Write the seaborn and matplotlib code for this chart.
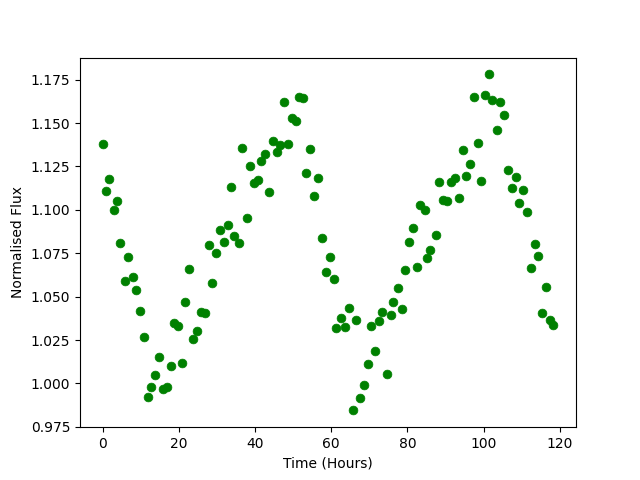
import matplotlib
matplotlib.use("Agg")
import matplotlib.pyplot as plt
import pandas as pd
import seaborn as sns

# Light curve
time_hours = [
    0.0, 0.8, 1.8, 2.9, 3.9, 4.7, 5.8, 6.8, 7.9, 8.9,
    9.7, 10.8, 11.8, 12.8, 13.7, 14.7, 15.9, 16.9, 17.9, 18.8,
    19.7, 20.8, 21.7, 22.8, 23.7, 24.8, 25.9, 26.8, 28.0, 28.7,
    29.7, 30.7, 31.8, 32.8, 33.6, 34.6, 35.7, 36.7, 37.8, 38.6,
    39.7, 40.7, 41.7, 42.6, 43.6, 44.6, 45.7, 46.6, 47.5, 48.6,
    49.6, 50.8, 51.6, 52.5, 53.5, 54.5, 55.6, 56.5, 57.5, 58.5,
    59.6, 60.6, 61.3, 62.5, 63.5, 64.6, 65.6, 66.4, 67.5, 68.5,
    69.6, 70.5, 71.4, 72.4, 73.3, 74.5, 75.6, 76.3, 77.4, 78.5,
    79.4, 80.3, 81.4, 82.5, 83.3, 84.5, 85.1, 86.0, 87.6, 88.4,
    89.4, 90.3, 91.4, 92.4, 93.4, 94.6, 95.3, 96.3, 97.4, 98.4,
    99.2, 100.3, 101.3, 102.3, 103.4, 104.3, 105.2, 106.3, 107.3, 108.4,
    109.2, 110.2, 111.3, 112.3, 113.4, 114.2, 115.2, 116.3, 117.3, 118.3,
]
flux = [
    1.138, 1.111, 1.118, 1.100, 1.105, 1.081, 1.059, 1.073, 1.0615, 1.054,
    1.042, 1.027, 0.992, 0.998, 1.005, 1.015, 0.9966, 0.9977, 1.010, 1.035,
    1.033, 1.012, 1.047, 1.066, 1.0257, 1.030, 1.0412, 1.0406, 1.080, 1.058,
    1.075, 1.0885, 1.0814, 1.0912, 1.113, 1.085, 1.081, 1.1354, 1.0952, 1.1253,
    1.1153, 1.1172, 1.128, 1.1322, 1.1102, 1.1397, 1.1332, 1.1374, 1.1619, 1.1378,
    1.1531, 1.1513, 1.1648, 1.1642, 1.1211, 1.1349, 1.108, 1.1182, 1.0837, 1.0642,
    1.0728, 1.0603, 1.032, 1.0379, 1.0326, 1.0437, 0.9845, 1.0366, 0.9918, 0.9992,
    1.0115, 1.0329, 1.0188, 1.0358, 1.041, 1.0052, 1.0393, 1.047, 1.0552, 1.0429,
    1.0655, 1.0816, 1.0895, 1.067, 1.1029, 1.100, 1.0722, 1.0768, 1.0855, 1.1159,
    1.1057, 1.105, 1.1163, 1.1182, 1.1067, 1.1343, 1.1195, 1.1262, 1.1648, 1.1383,
    1.1165, 1.1659, 1.178, 1.163, 1.1458, 1.1619, 1.1544, 1.1228, 1.1125, 1.1188,
    1.1042, 1.1113, 1.0989, 1.0667, 1.0803, 1.0736, 1.0406, 1.0557, 1.0366, 1.0337,
]

df = pd.DataFrame({'time': time_hours, 'flux': flux})

fig, ax = plt.subplots(figsize=(6.4, 4.8), dpi=100)
sns.scatterplot(data=df, x='time', y='flux', color='green', edgecolor='green',
                s=40, linewidth=0.5, ax=ax)
ax.set_xlabel('Time (Hours)')
ax.set_ylabel('Normalised Flux')

fig.savefig('out.png')
